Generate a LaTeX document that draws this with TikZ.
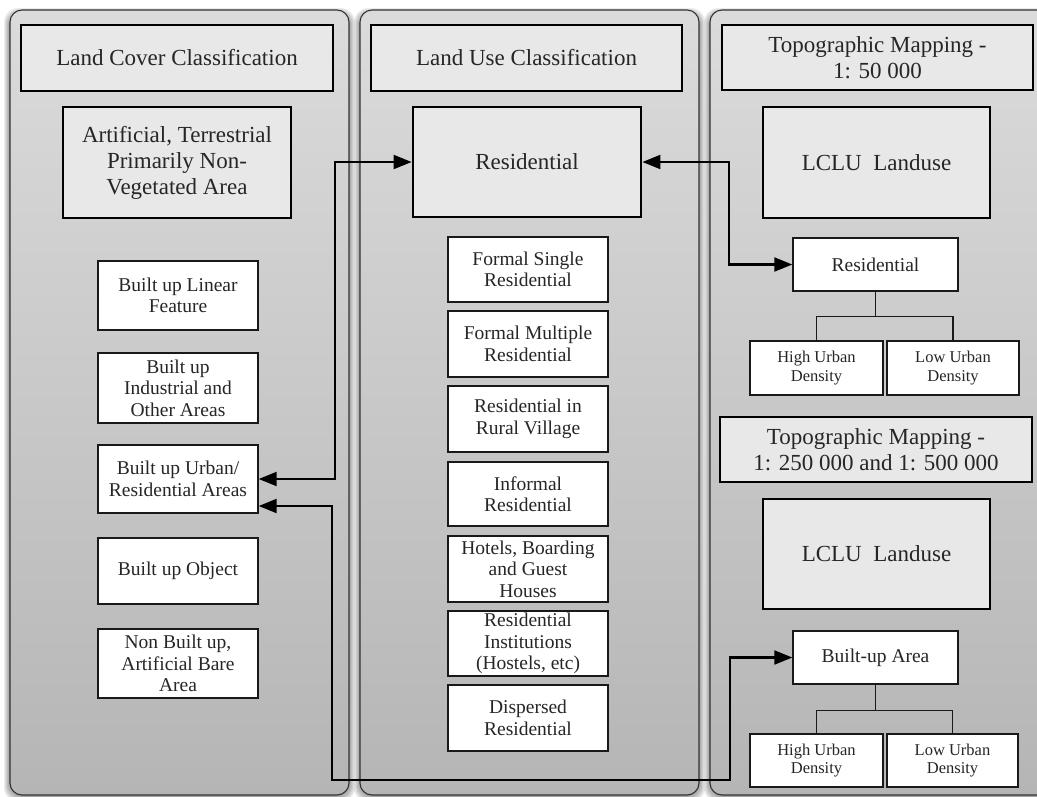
\documentclass[tikz,border=0pt]{standalone}
\usepackage{fontspec}
\setmainfont{Liberation Serif}
\usetikzlibrary{arrows.meta}
\begin{document}
\begin{tikzpicture}[x=1pt,y=-1pt,
  panel/.style={draw=black!80, line width=1.1pt, rounded corners=12pt, top color=black!14, bottom color=black!29},
  head/.style={draw=black, line width=2.8pt, fill=black!9, text=black!85, align=center, font=\fontsize{23}{26}\selectfont, inner sep=1pt},
  item/.style={draw=black!90, line width=1.4pt, fill=white, text=black!85, align=center, font=\fontsize{19.5}{21.5}\selectfont, inner sep=1pt},
  leaf/.style={item, font=\fontsize{16.5}{18.5}\selectfont},
  arr/.style={line width=2.1pt, {Triangle[length=18pt,width=14pt]}-{Triangle[length=18pt,width=14pt]}},
  tree/.style={line width=1.5pt, draw=black!90},
  shade/.style={fill=black, opacity=0.07, rounded corners=14pt}]
\useasboundingbox (0,0) rectangle (1037,796);
\begin{scope}
\clip (0,0) rectangle (1037,796);
\foreach \s in {1,2,3,4,5,6} {
  \fill[shade] (10-\s,14-\s) rectangle (349+\s,796+\s);
  \fill[shade] (360-\s,14-\s) rectangle (699+\s,796+\s);
  \fill[shade] (710-\s,14-\s) rectangle (1060+\s,796+\s);
}
\draw[panel] (10,10) rectangle (349,795);
\draw[panel] (360,10) rectangle (699,795);
\draw[panel] (710,10) rectangle (1055,795);
\end{scope}
% left column
\node[head, minimum width=312pt, minimum height=66pt] (lch) at (177,58) {Land Cover Classification};
\node[head, minimum width=228pt, minimum height=111pt] (art) at (177,162.5) {Artificial, Terrestrial\\Primarily Non-\\Vegetated Area};
\node[item, minimum width=160pt, minimum height=69pt] (lin) at (178,295.5) {Built up Linear\\Feature};
\node[item, minimum width=160pt, minimum height=70pt] (ind) at (178,388) {Built up\\Industrial and\\Other Areas};
\node[item, minimum width=160pt, minimum height=68pt] (urb) at (178,479) {Built up Urban/\\Residential Areas};
\node[item, minimum width=160pt, minimum height=66pt] (obj) at (178,571) {Built up Object};
\node[item, minimum width=160pt, minimum height=69pt] (nbu) at (178,663.5) {Non Built up,\\Artificial Bare\\Area};
% middle column
\node[head, minimum width=311pt, minimum height=66pt] (luh) at (526.5,58) {Land Use Classification};
\node[head, minimum width=228pt, minimum height=110pt] (res) at (527,162) {Residential};
\node[item, minimum width=160pt, minimum height=65pt] (fs) at (528,269.5) {Formal Single\\Residential};
\node[item, minimum width=160pt, minimum height=66pt] (fm) at (528,344) {Formal Multiple\\Residential};
\node[item, minimum width=160pt, minimum height=66pt] (rv) at (528,419) {Residential in\\Rural Village};
\node[item, minimum width=160pt, minimum height=64pt] (inf) at (528,494) {Informal\\Residential};
\node[item, minimum width=160pt, minimum height=66pt] (hot) at (528,569) {Hotels, Boarding\\and Guest\\Houses};
\node[item, minimum width=160pt, minimum height=65pt] (ins) at (528,643.5) {Residential\\Institutions\\(Hostels, etc)};
\node[item, minimum width=160pt, minimum height=66pt] (dis) at (528,718) {Dispersed\\Residential};
% right column
\node[head, minimum width=311pt, minimum height=65pt] (th1) at (877.5,57.5) {Topographic Mapping -\\1: 50 000};
\node[head, minimum width=227pt, minimum height=111pt] (lc1) at (876.5,162.5) {LCLU\ \ Landuse};
\node[item, minimum width=165pt, minimum height=53pt] (rs1) at (875.5,264.5) {Residential};
\node[leaf, minimum width=133pt, minimum height=54pt] (hi1) at (816.5,368) {High Urban\\Density};
\node[leaf, minimum width=132pt, minimum height=54pt] (lo1) at (953,368) {Low Urban\\Density};
\node[head, minimum width=312pt, minimum height=65pt] (th2) at (876,449.5) {Topographic Mapping -\\1: 250 000 and 1: 500 000};
\node[head, minimum width=227pt, minimum height=110pt] (lc2) at (876.5,554) {LCLU\ \ Landuse};
\node[item, minimum width=165pt, minimum height=53pt] (bua) at (875.5,657.5) {Built-up Area};
\node[leaf, minimum width=133pt, minimum height=53pt] (hi2) at (816.5,760.5) {High Urban\\Density};
\node[leaf, minimum width=131pt, minimum height=53pt] (lo2) at (952.5,760.5) {Low Urban\\Density};
% trees
\draw[tree] (rs1.south) -- ++(0,25) coordinate (t1) -| (hi1.north);
\draw[tree] (t1) -| (lo1.north);
\draw[tree] (bua.south) -- ++(0,26) coordinate (t2) -| (hi2.north);
\draw[tree] (t2) -| (lo2.north);
% connectors
\draw[arr] (urb.east) -- ++(76,0) |- (res.west);
\draw[arr] (res.east) -- ++(87,0) |- (rs1.west);
\draw[arr] ([yshift=-27pt]urb.east) -- ++(73,0) -- ++(0,274) -- ++(398,0) |- (bua.west);
\end{tikzpicture}
\end{document}
